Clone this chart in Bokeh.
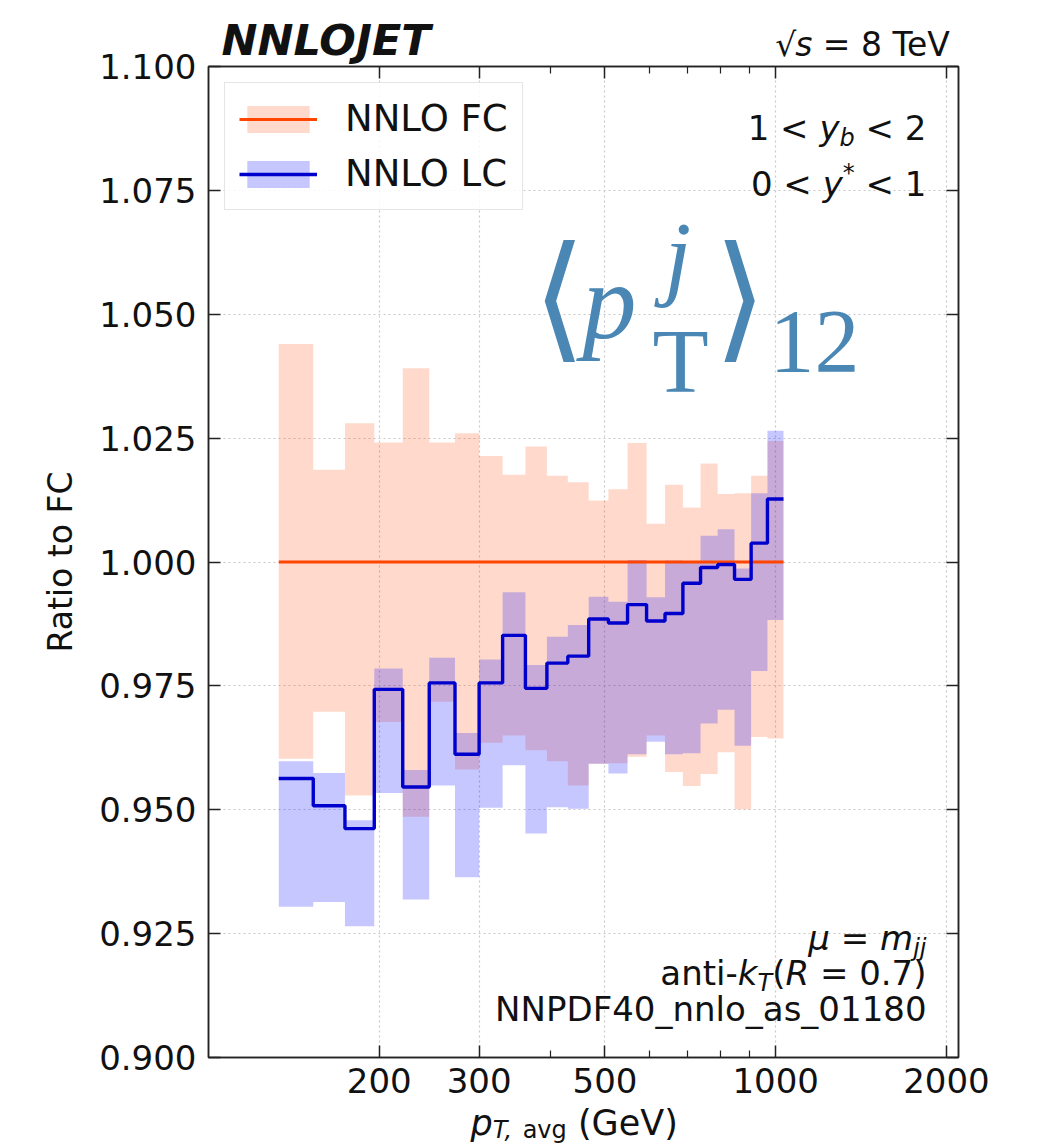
import numpy as np
from bokeh.plotting import figure
from bokeh.layouts import column
from bokeh.models import (FixedTicker, LogAxis, LinearAxis, Legend, LegendItem, Label,
                          NumeralTickFormatter, CustomJSTickFormatter, Range1d)
from bokeh.embed import file_html
from bokeh.resources import INLINE

# ---------------- data ----------------
bin_edges = [133, 153, 174, 196, 220, 245, 272, 300, 330, 362, 395, 430, 468, 507,
             548, 592, 638, 686, 737, 790, 846, 905, 967, 1032]

fc_center = [1.0, 1.0, 1.0, 1.0, 1.0, 1.0, 1.0, 1.0, 1.0, 1.0, 1.0, 1.0,
             1.0, 1.0, 1.0, 1.0, 1.0, 1.0, 1.0, 1.0, 1.0, 1.0, 1.0]
fc_upper = [1.0440, 1.0186, 1.0280, 1.0241, 1.0391, 1.0241, 1.0260, 1.0214, 1.0176,
            1.0233, 1.0174, 1.0161, 1.0124, 1.0147, 1.0240, 1.0077, 1.0156, 1.0110,
            1.0199, 1.0137, 1.0139, 1.0174, 1.0244]
fc_lower = [0.9603, 0.9698, 0.9529, 0.9677, 0.9486, 0.9718, 0.9581, 0.9635, 0.9650,
            0.9620, 0.9598, 0.9549, 0.9593, 0.9594, 0.9607, 0.9650, 0.9576, 0.9548,
            0.9572, 0.9616, 0.9501, 0.9647, 0.9644]

lc_center = [0.9563, 0.9508, 0.9462, 0.9743, 0.9546, 0.9756, 0.9612, 0.9756, 0.9852,
             0.9745, 0.9796, 0.9810, 0.9885, 0.9877, 0.9914, 0.9881, 0.9896, 0.9957,
             0.9989, 0.9995, 0.9965, 1.0038, 1.0127]
lc_upper = [0.9598, 0.9574, 0.9479, 0.9785, 0.9580, 0.9807, 0.9655, 0.9803, 0.9939,
            0.9792, 0.9849, 0.9873, 0.9930, 0.9920, 1.0004, 0.9929, 1.0003, 0.9999,
            1.0053, 1.0066, 0.9987, 1.0139, 1.0265]
lc_lower = [0.9304, 0.9314, 0.9265, 0.9534, 0.9319, 0.9549, 0.9364, 0.9504, 0.9590,
            0.9452, 0.9505, 0.9502, 0.9593, 0.9573, 0.9612, 0.9637, 0.9612, 0.9614,
            0.9674, 0.9702, 0.9629, 0.9780, 0.9883]

x_ticks = [200, 300, 500, 1000, 2000]
x_minor_ticks = [400, 600, 700, 800, 900]
y_ticks = [0.900, 0.925, 0.950, 0.975, 1.000, 1.025, 1.050, 1.075, 1.100]

# ---------------- layout constants (page pixels) ----------------
X0, X1 = 100, 2100
Y0, Y1 = 0.9, 1.1
FW, FH = 750, 991
BL, BT, BR, BB = 208, 66, 80, 89
FL, FT = BL, BT
FOOT_Y0 = BT + FH + 9
FOOT_H = BT + FH + BB - FOOT_Y0

def px2x(px):
    return 10 ** (np.log10(X0) + (px - FL) / FW * (np.log10(X1) - np.log10(X0)))

def py2y(py):
    return Y1 - (py - FT) / FH * (Y1 - Y0)

p = figure(x_axis_type="log", x_range=(X0, X1), y_range=(Y0, Y1),
           frame_width=FW, frame_height=FH,
           min_border_left=BL, min_border_top=BT, min_border_right=BR, min_border_bottom=BB,
           output_backend="svg", toolbar_location=None)
p.background_fill_color = "white"
p.border_fill_color = "white"
p.outline_line_color = "#222222"
p.outline_line_width = 1.5

# step geometry from data
xe = np.array(bin_edges, dtype=float)
x_step = np.repeat(xe, 2)[1:-1]

def steps(v):
    return np.repeat(np.array(v, dtype=float), 2)

fc_band = p.patch(np.concatenate([x_step, x_step[::-1]]),
                  np.concatenate([steps(fc_upper), steps(fc_lower)[::-1]]),
                  fill_color="#ff4500", fill_alpha=0.2, line_color=None)
lc_band = p.patch(np.concatenate([x_step, x_step[::-1]]),
                  np.concatenate([steps(lc_upper), steps(lc_lower)[::-1]]),
                  fill_color="#0000ff", fill_alpha=0.22, line_color=None)
fc_line = p.line(x_step, steps(fc_center), line_color="#ff4500", line_width=3.0)
lc_line = p.line(x_step, steps(lc_center), line_color="#0000cc", line_width=3.4)

# axes
def style_axis(ax):
    ax.major_tick_in = 12
    ax.major_tick_out = 0
    ax.minor_tick_in = 7
    ax.minor_tick_out = 0
    ax.axis_line_color = "#222222"
    ax.axis_line_width = 1.5
    ax.major_tick_line_color = "#222222"
    ax.major_tick_line_width = 1.5
    ax.minor_tick_line_color = "#222222"
    ax.minor_tick_line_width = 1.2
    ax.major_label_text_font = "DejaVu Sans"
    ax.major_label_text_font_size = "34px"
    ax.major_label_text_color = "#111111"

xa = p.xaxis[0]
xa.ticker = FixedTicker(ticks=x_ticks, minor_ticks=x_minor_ticks)
xa.formatter = NumeralTickFormatter(format="0")
xa.major_label_standoff = 10
style_axis(xa)

ya = p.yaxis[0]
ya.ticker = FixedTicker(ticks=y_ticks, minor_ticks=[])
ya.formatter = NumeralTickFormatter(format="0.000")
ya.major_label_standoff = 12
style_axis(ya)
ya.axis_label = "Ratio to FC"
ya.axis_label_text_font = "DejaVu Sans"
ya.axis_label_text_font_size = "33px"
ya.axis_label_text_font_style = "normal"
ya.axis_label_text_color = "#111111"
ya.axis_label_standoff = 16

blank = CustomJSTickFormatter(code="return ''")
top = LogAxis(ticker=FixedTicker(ticks=x_ticks, minor_ticks=x_minor_ticks), formatter=blank)
style_axis(top)
top.major_label_standoff = 0
top.major_label_text_font_size = "1px"
p.add_layout(top, "above")
right = LinearAxis(ticker=FixedTicker(ticks=y_ticks, minor_ticks=[]), formatter=blank)
style_axis(right)
right.major_label_standoff = 0
right.major_label_text_font_size = "1px"
p.add_layout(right, "right")

# grid
p.xgrid.ticker = FixedTicker(ticks=x_ticks)
p.ygrid.ticker = FixedTicker(ticks=y_ticks)
for g in (p.xgrid[0], p.ygrid[0]):
    g.grid_line_color = "#c8c8c8"
    g.grid_line_dash = "2 3"
    g.grid_line_width = 1.2

# legend
legend = Legend(items=[LegendItem(label="NNLO FC", renderers=[fc_band, fc_line]),
                       LegendItem(label="NNLO LC", renderers=[lc_band, lc_line])],
                location="top_left", margin=16, padding=14, spacing=12,
                glyph_width=78, glyph_height=34, label_standoff=28,
                label_text_font="DejaVu Sans", label_text_font_size="37px",
                label_text_color="#111111",
                border_line_color="#cccccc", border_line_width=1.5,
                background_fill_color="white", background_fill_alpha=0.85)
p.add_layout(legend)

# ---------------- transparent text overlays (frames aligned with the main frame) ----------------
def overlay_fig(height, y_top):
    f = figure(frame_width=FW, frame_height=height,
               x_range=Range1d(FL, FL + FW), y_range=Range1d(y_top + height, y_top),
               min_border_left=BL, min_border_right=BR, min_border_top=0, min_border_bottom=0,
               x_axis_location=None, y_axis_location=None,
               output_backend="svg", toolbar_location=None)
    f.grid.visible = False
    f.outline_line_color = None
    f.background_fill_color = None
    f.border_fill_color = None
    f.styles = {"position": "absolute", "top": f"{y_top}px", "left": "0px", "z-index": "5"}
    return f

head_fig = overlay_fig(BT, 0)
foot_fig = overlay_fig(FOOT_H, FOOT_Y0)

W = {' ': 0.318, '0': 0.636, '1': 0.636, '2': 0.636, '4': 0.636, '7': 0.636, '8': 0.636,
     '.': 0.318, ',': 0.318, '<': 0.838, '=': 0.838, '(': 0.390, ')': 0.390, '-': 0.361,
     '*': 0.500, '_': 0.500, 'a': 0.613, 'b': 0.635, 'e': 0.615, 'g': 0.635, 'i': 0.278,
     'j': 0.278, 'k': 0.579, 'l': 0.278, 'm': 0.974, 'n': 0.634, 'o': 0.612, 'p': 0.635,
     's': 0.521, 't': 0.392, 'v': 0.592, 'y': 0.592, 'C': 0.698, 'D': 0.770, 'F': 0.575,
     'G': 0.775, 'N': 0.748, 'P': 0.603, 'R': 0.695, 'T': 0.611, 'V': 0.684,
     'μ': 0.636, '√': 0.60}

def twidth(s, size):
    return sum(W.get(c, 0.6) for c in s) * size

BASE_SHIFT = 0.34

def put(fig, text, left_px, base_px, size, style="normal", font="DejaVu Sans",
        color="#111111", main=True):
    lead = len(text) - len(text.lstrip(" "))
    left_px = left_px + lead * W[" "] * size
    text = text.lstrip(" ")
    ay = base_px - BASE_SHIFT * size
    if main:
        x, y = px2x(left_px), py2y(ay)
    else:
        x, y = left_px, ay
    fig.add_layout(Label(x=x, y=y, text=text, text_font=font,
                         text_font_size=f"{size}px", text_font_style=style, text_color=color,
                         text_baseline="alphabetic", text_align="left"))

def rich(fig, segs, base_px, right_px=None, left_px=None, main=True):
    total = sum(twidth(t, s) for t, s, st, dy in segs)
    x = left_px if left_px is not None else right_px - total
    for t, s, st, dy in segs:
        put(fig, t, x, base_px + dy, s, st, main=main)
        x += twidth(t, s)

# header
put(head_fig, "NNLOJET", 221, 54, 43, "bold italic", main=False)
rich(head_fig, [("√", 33, "normal", 0), ("s", 33, "italic", 0), (" = 8 TeV", 33, "normal", 0)],
     55, right_px=955, main=False)

# in-plot annotations
rich(p, [("1 < ", 34, "normal", 0), ("y", 34, "italic", 0), ("b", 24, "italic", 7),
         (" < 2", 34, "normal", 0)], 139, right_px=926)
rich(p, [("0 < ", 34, "normal", 0), ("y", 34, "italic", 0), ("*", 24, "normal", -14),
         (" < 1", 34, "normal", 0)], 195, right_px=926)
rich(p, [("μ", 34, "italic", 0), (" = ", 34, "normal", 0), ("m", 34, "italic", 0),
         ("jj", 24, "italic", 7)], 949, right_px=926)
rich(p, [("anti-", 34, "normal", 0), ("k", 34, "italic", 0), ("T", 24, "italic", 7),
         ("(", 34, "normal", 0), ("R", 34, "italic", 0), (" = 0.7)", 34, "normal", 0)],
     984, right_px=926)
rich(p, [("NNPDF40_nnlo_as_01180", 34, "normal", 0)], 1020, right_px=926)

# x axis label
rich(foot_fig, [("p", 35, "italic", 0), ("T,", 24, "italic", 4), (" avg", 24, "normal", 4),
                (" (GeV)", 35, "normal", 0)], 1134, left_px=470, main=False)

# big blue observable label
BLUE = "#4a87b5"
put(p, "⟨", 532, 343, 137, "normal", "DejaVu Serif", BLUE)
put(p, "p", 582, 338, 108, "italic", "Liberation Serif", BLUE)
put(p, "j", 664, 288, 96, "italic", "Liberation Serif", BLUE)
put(p, "T", 652, 392, 92, "normal", "Liberation Serif", BLUE)
put(p, "⟩", 713, 343, 137, "normal", "DejaVu Serif", BLUE)
put(p, "12", 769, 372, 90, "normal", "Liberation Serif", BLUE)

layout = column(p, foot_fig, head_fig, spacing=0)
open("out.html", "w").write(file_html(layout, INLINE))
